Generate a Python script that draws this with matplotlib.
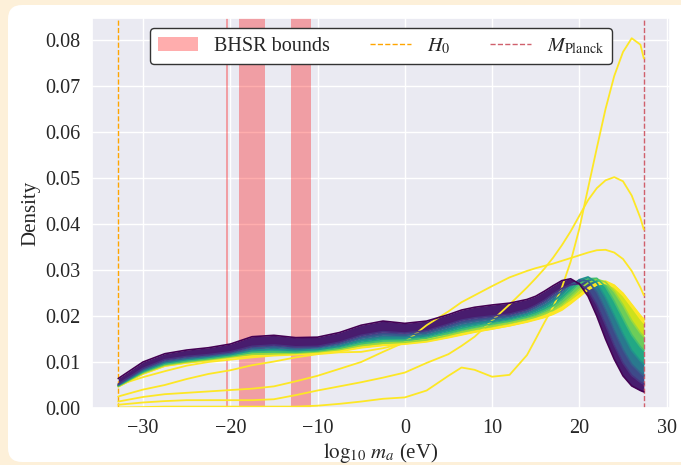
import matplotlib.pyplot as plt
import numpy as np
import seaborn as sns
from matplotlib.patches import FancyBboxPatch
from matplotlib.transforms import IdentityTransform

sns.set_theme(style="darkgrid")
plt.rcParams['font.family'] = 'serif'
plt.rcParams['font.serif'] = ['Liberation Serif', 'DejaVu Serif']
plt.rcParams['mathtext.fontset'] = 'stix'

grid = [-32.84, -30, -27.5, -25, -22.5, -20, -17.5, -15, -12.5, -10, -7.5, -5, -2.5, 0,
        2.5, 5, 6.5, 8, 10, 12, 14, 15, 16, 17, 18, 19, 20, 21, 22, 23, 24, 25, 26, 27, 27.39]

# main family of KDE curves, colour value in viridis -> density values
fam_values = [0.0, 0.15, 0.3, 0.5, 0.7, 0.85, 1.0]
fam_0 = [0.0064, 0.0100, 0.0118, 0.0126, 0.0131, 0.0139, 0.0155, 0.0158, 0.0153, 0.0154,
         0.0164, 0.0180, 0.0189, 0.0184, 0.0189, 0.0203, 0.0213, 0.0219, 0.0224, 0.0228,
         0.0236, 0.0243, 0.0254, 0.0266, 0.0277, 0.0281, 0.0270, 0.0243, 0.0200, 0.0150,
         0.0106, 0.0070, 0.0048, 0.0038, 0.0035]
fam_15 = [0.0052, 0.0086, 0.0105, 0.0112, 0.0116, 0.0122, 0.0134, 0.0137, 0.0133, 0.0134,
          0.0143, 0.0158, 0.0166, 0.0163, 0.0168, 0.0182, 0.0191, 0.0196, 0.0200, 0.0204,
          0.0214, 0.0223, 0.0234, 0.0248, 0.0260, 0.0268, 0.0270, 0.0256, 0.0225, 0.0181,
          0.0136, 0.0098, 0.0071, 0.0056, 0.0052]
fam_30 = [0.0050, 0.0083, 0.0101, 0.0108, 0.0113, 0.0119, 0.0129, 0.0132, 0.0129, 0.0131,
          0.0139, 0.0152, 0.0159, 0.0158, 0.0163, 0.0176, 0.0184, 0.0189, 0.0194, 0.0199,
          0.0209, 0.0218, 0.0228, 0.0241, 0.0255, 0.0268, 0.0278, 0.0276, 0.0252, 0.0213,
          0.0168, 0.0127, 0.0095, 0.0076, 0.0070]
fam_50 = [0.0049, 0.0080, 0.0098, 0.0105, 0.0110, 0.0116, 0.0125, 0.0127, 0.0125, 0.0127,
          0.0134, 0.0146, 0.0152, 0.0152, 0.0157, 0.0169, 0.0177, 0.0182, 0.0188, 0.0194,
          0.0204, 0.0211, 0.0220, 0.0232, 0.0247, 0.0264, 0.0279, 0.0285, 0.0272, 0.0240,
          0.0201, 0.0161, 0.0125, 0.0102, 0.0095]
fam_70 = [0.0048, 0.0078, 0.0095, 0.0102, 0.0107, 0.0113, 0.0121, 0.0122, 0.0121, 0.0124,
          0.0130, 0.0140, 0.0146, 0.0147, 0.0152, 0.0163, 0.0170, 0.0176, 0.0183, 0.0189,
          0.0198, 0.0204, 0.0212, 0.0222, 0.0236, 0.0253, 0.0270, 0.0281, 0.0282, 0.0264,
          0.0232, 0.0195, 0.0159, 0.0133, 0.0125]
fam_85 = [0.0047, 0.0076, 0.0093, 0.0100, 0.0105, 0.0111, 0.0117, 0.0118, 0.0119, 0.0122,
          0.0127, 0.0136, 0.0141, 0.0143, 0.0148, 0.0158, 0.0165, 0.0171, 0.0178, 0.0185,
          0.0193, 0.0198, 0.0205, 0.0213, 0.0225, 0.0241, 0.0258, 0.0272, 0.0280, 0.0274,
          0.0253, 0.0224, 0.0190, 0.0163, 0.0155]
fam_100 = [0.0046, 0.0074, 0.0091, 0.0098, 0.0103, 0.0109, 0.0113, 0.0115, 0.0117, 0.0120,
           0.0124, 0.0132, 0.0137, 0.0140, 0.0145, 0.0154, 0.0160, 0.0166, 0.0173, 0.0180,
           0.0188, 0.0193, 0.0198, 0.0205, 0.0215, 0.0229, 0.0245, 0.0261, 0.0272, 0.0276,
           0.0267, 0.0249, 0.0224, 0.0199, 0.0190]
family = [fam_0, fam_15, fam_30, fam_50, fam_70, fam_85, fam_100]

# stray yellow curves
yel_a = [0.0050, 0.0067, 0.0080, 0.0092, 0.0100, 0.0105, 0.0110, 0.0114, 0.0116, 0.0119,
         0.0123, 0.0131, 0.0136, 0.0139, 0.0144, 0.0153, 0.0159, 0.0165, 0.0172, 0.0179,
         0.0187, 0.0192, 0.0197, 0.0204, 0.0213, 0.0227, 0.0242, 0.0257, 0.0268, 0.0273,
         0.0266, 0.0249, 0.0225, 0.0201, 0.0193]
yel_b = [0.0025, 0.0040, 0.0050, 0.0063, 0.0074, 0.0082, 0.0093, 0.0101, 0.0110, 0.0117,
         0.0121, 0.0122, 0.0130, 0.0141, 0.0150, 0.0157, 0.0161, 0.0166, 0.0172, 0.0179,
         0.0188, 0.0194, 0.0200, 0.0208, 0.0218, 0.0231, 0.0245, 0.0259, 0.0268, 0.0271,
         0.0263, 0.0245, 0.0220, 0.0194, 0.0185]
yel_c = [0.0014, 0.0024, 0.0030, 0.0033, 0.0036, 0.0039, 0.0042, 0.0047, 0.0058, 0.0070,
         0.0085, 0.0100, 0.0122, 0.0143, 0.0180, 0.0210, 0.0230, 0.0245, 0.0265, 0.0284,
         0.0298, 0.0304, 0.0309, 0.0314, 0.0320, 0.0326, 0.0332, 0.0338, 0.0343, 0.0344,
         0.0338, 0.0324, 0.0298, 0.0262, 0.0245]
yel_d = [0.0007, 0.0012, 0.0015, 0.0017, 0.0017, 0.0017, 0.0017, 0.0019, 0.0028, 0.0038,
         0.0047, 0.0056, 0.0066, 0.0077, 0.0098, 0.0117, 0.0135, 0.0155, 0.0190, 0.0225,
         0.0262, 0.0282, 0.0303, 0.0327, 0.0354, 0.0384, 0.0418, 0.0452, 0.0478, 0.0495,
         0.0502, 0.0493, 0.0462, 0.0413, 0.0388]
yel_e = [0.0001, 0.0002, 0.0003, 0.0003, 0.0003, 0.0003, 0.0003, 0.0003, 0.0003, 0.0005,
         0.0009, 0.0014, 0.0020, 0.0023, 0.0038, 0.0070, 0.0088, 0.0083, 0.0068, 0.0072,
         0.0115, 0.0150, 0.0186, 0.0220, 0.0262, 0.0318, 0.0390, 0.0478, 0.0565, 0.0650,
         0.0722, 0.0774, 0.0804, 0.0790, 0.0760]
strays = [yel_e, yel_d, yel_c, yel_b, yel_a]

bhsr_bounds = [(-20.45, -20.3), (-19.0, -16.0), (-13.0, -10.7)]
log_H0 = -32.84
log_Mpl = 27.39

cmap = plt.get_cmap('viridis')

fig = plt.figure(figsize=(6.81, 4.65), dpi=100, facecolor='#fdf0d9')
fig.add_artist(FancyBboxPatch((8, 3), 700, 457, boxstyle='round,pad=0,rounding_size=14',
                              transform=IdentityTransform(), fc='white', ec='none', zorder=-10))
ax = fig.add_axes([0.135, 0.1226, 0.849, 0.8387])

for i, (lo, hi) in enumerate(bhsr_bounds):
    ax.axvspan(lo, hi, color='red', alpha=0.32, lw=0,
               label='BHSR bounds' if i == 0 else None)
ax.axvline(log_H0, color='orange', ls='--', lw=1, label='$H_0$')
ax.axvline(log_Mpl, color='#d0606c', ls='--', lw=1, label=r'$M_{\rm Planck}$')

for y in strays:
    ax.plot(grid, y, color=cmap(1.0), lw=1.3)

n = len(family)
for k in range(n - 1, -1, -1):
    if k < n - 1:
        ax.fill_between(grid, family[k], family[k + 1],
                        color=cmap((fam_values[k] + fam_values[k + 1]) / 2), lw=0)
    ax.plot(grid, family[k], color=cmap(fam_values[k]), lw=1.2)

ax.set_xlim(-35.85, 30.4)
ax.set_ylim(0, 0.0848)
ax.set_xticks([-30, -20, -10, 0, 10, 20, 30])
ax.set_yticks(np.arange(0, 0.081, 0.01))
ax.tick_params(labelsize=14.5, pad=2)
ax.set_xlabel(r'$\log_{10}\, m_a$ (eV)', fontsize=15, labelpad=2)
ax.set_ylabel('Density', fontsize=15)

leg = ax.legend(loc='upper center', ncol=3, fontsize=14.5, frameon=True, facecolor='white',
                edgecolor='#333333', framealpha=1, handlelength=2.0, columnspacing=2.0,
                handletextpad=0.8)
leg.get_frame().set_linewidth(1.0)

fig.savefig('out.png', dpi=100, facecolor=fig.get_facecolor())
